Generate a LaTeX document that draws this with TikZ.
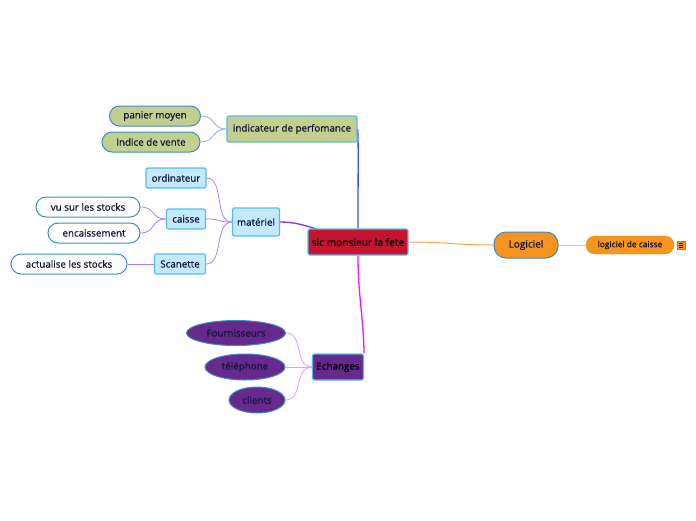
\documentclass[tikz,border=0pt]{standalone}
\usepackage{fontspec}
\setmainfont{Open Sans}[RawFeature={embolden=0.7}]
\usetikzlibrary{backgrounds,shapes.geometric}
\definecolor{txt}{HTML}{10153A}
\definecolor{bord}{HTML}{55BBEE}
\definecolor{pillbord}{HTML}{3A8CC8}
\definecolor{redc}{HTML}{C4142F}
\definecolor{olive}{HTML}{C3CF8E}
\definecolor{lblue}{HTML}{C2EAFB}
\definecolor{orng}{HTML}{F7941D}
\definecolor{purp}{HTML}{662A8C}
\definecolor{cblue}{HTML}{3355DD}
\definecolor{cpurp}{HTML}{7733EE}
\definecolor{cmag}{HTML}{E81CF0}
\definecolor{corng}{HTML}{F5A940}
\definecolor{clblue}{HTML}{88AAF0}
\definecolor{clpurp}{HTML}{B07CFF}
\definecolor{clmag}{HTML}{FF8CFF}
\definecolor{clorng}{HTML}{F9C47A}
\tikzset{
  base/.style={font=\fontsize{9.8}{11}\selectfont, text=txt, inner sep=0pt, align=center},
  boxnode/.style={base, draw=bord, line width=1.2pt, rounded corners=2pt},
  centralnode/.style={boxnode, fill=redc, minimum width=100pt, minimum height=26pt, font=\fontsize{10.2}{12}\selectfont, text=black},
  indnode/.style={boxnode, fill=olive, minimum height=26pt},
  matnode/.style={boxnode, fill=lblue, minimum height=20pt},
  olivepill/.style={base, draw=pillbord, line width=1pt, fill=olive, rounded corners=10pt, minimum height=20pt},
  whitepill/.style={base, draw=pillbord, line width=1pt, fill=white, rounded corners=10pt, minimum height=20pt},
  orangepill/.style={base, draw=pillbord, line width=1pt, fill=orng, rounded corners=12pt, minimum height=26pt, font=\fontsize{10}{12}\selectfont},
  smallorange/.style={base, fill=orng, draw=orng!90!black, line width=0.4pt, rounded corners=9pt, minimum height=18pt, font=\fontsize{8.4}{10}\selectfont},
  ellnode/.style={base, ellipse, draw=pillbord, line width=1pt, fill=purp, inner sep=0pt},
  mainlink/.style={line width=1.3pt},
  sublink/.style={line width=0.8pt},
}
\begin{document}
\begin{tikzpicture}[x=1pt,y=-1pt]
\useasboundingbox (0,0) rectangle (696,520);
% nodes
\node[centralnode] (c) at (358,242) {sic monsieur la fete};
\node[indnode, minimum width=130pt] (ind) at (292,129) {indicateur de perfomance};
\node[olivepill, minimum width=91pt] (pan) at (155,116) {panier moyen};
\node[olivepill, minimum width=98pt] (idv) at (151,142) {Indice de vente};
\node[matnode, minimum width=47pt, minimum height=28pt] (mat) at (256,222) {matériel};
\node[matnode, minimum width=60pt] (ord) at (176,178) {ordinateur};
\node[matnode, minimum width=39pt] (cai) at (186,219) {caisse};
\node[matnode, minimum width=51pt] (sca) at (180,264) {Scanette};
\node[whitepill, minimum width=104pt] (vu) at (88,207) {vu sur les stocks};
\node[whitepill, minimum width=92pt] (enc) at (94,233) {encaissement};
\node[whitepill, minimum width=116pt] (act) at (69,264) {actualise les stocks};
\node[orangepill, minimum width=64pt] (log) at (526,245) {Logiciel};
\node[smallorange, minimum width=88pt] (ldc) at (630,245) {logiciel de caisse};
\node[fill=orng, draw=orng!80!black, line width=0.4pt, minimum width=8pt, minimum height=8pt, inner sep=0pt] (icon) at (681,245) {};
\draw[txt, line width=0.6pt] ([xshift=-2pt,yshift=2pt]icon.center) -- ([xshift=2pt,yshift=2pt]icon.center)
  ([xshift=-2pt]icon.center) -- ([xshift=2pt]icon.center)
  ([xshift=-2pt,yshift=-2pt]icon.center) -- ([xshift=2pt,yshift=-2pt]icon.center);
\node[boxnode, fill=purp, minimum width=51pt, minimum height=26pt, text=black] (ech) at (338,367) {Echanges};
\node[ellnode, minimum width=99pt, minimum height=25pt] (fou) at (236,333) {Fournisseurs};
\node[ellnode, minimum width=80pt, minimum height=26pt] (tel) at (245,367) {téléphone};
\node[ellnode, minimum width=56pt, minimum height=26pt] (cli) at (257,400) {clients};
% connectors
\begin{pgfonlayer}{background}
\draw[cblue, mainlink] (c.north) .. controls +(0,-55) and +(1,12) .. (ind.east);
\draw[cpurp, mainlink] (mat.east) .. controls +(30,0) and +(-30,-5) .. (c.center);
\draw[cmag, mainlink] (c.south) .. controls +(0,40) and +(-1,-40) .. (ech.north east);
\draw[corng, line width=1pt] (c.east) .. controls +(40,0) and +(-40,0) .. (log.west);
\draw[clorng, sublink] (log.east) -- (ldc.west);
\draw[clblue, sublink] (ind.west) .. controls +(-15,0) and +(15,0) .. (pan.east);
\draw[clblue, sublink] (ind.west) .. controls +(-15,0) and +(15,0) .. (idv.east);
\draw[clpurp, sublink] (mat.west) .. controls +(-18,0) and +(18,0) .. (ord.east);
\draw[clpurp, sublink] (mat.west) .. controls +(-18,0) and +(18,0) .. (cai.east);
\draw[clpurp, sublink] (mat.west) .. controls +(-18,0) and +(18,0) .. (sca.east);
\draw[clpurp, sublink] (cai.west) .. controls +(-15,0) and +(15,0) .. (vu.east);
\draw[clpurp, sublink] (cai.west) .. controls +(-15,0) and +(15,0) .. (enc.east);
\draw[clpurp, sublink] (sca.west) -- (act.east);
\draw[clmag, sublink] (ech.west) .. controls +(-18,0) and +(18,0) .. (fou.east);
\draw[clmag, sublink] (ech.west) -- (tel.east);
\draw[clmag, sublink] (ech.west) .. controls +(-18,0) and +(18,0) .. (cli.east);
\end{pgfonlayer}
\end{tikzpicture}
\end{document}
